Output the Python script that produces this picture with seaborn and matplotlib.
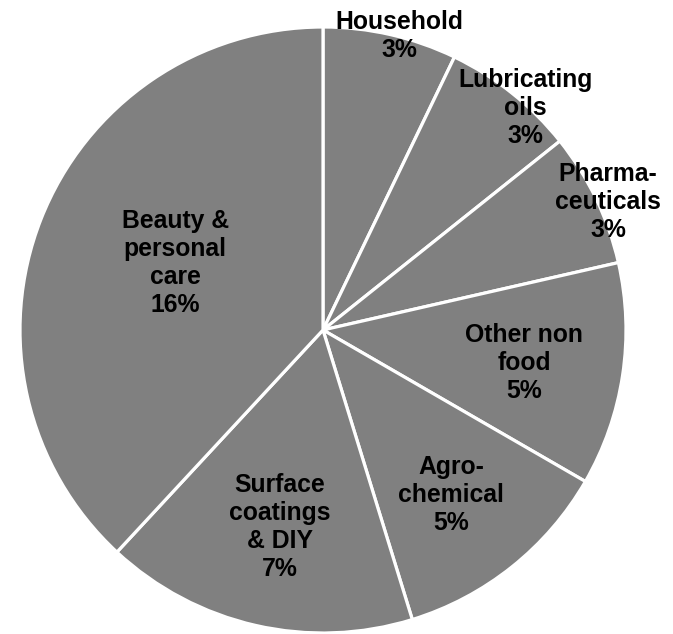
import matplotlib
matplotlib.use("Agg")
import matplotlib.pyplot as plt
import seaborn as sns

# Share of end-use markets (percent of total)
categories = [
    "Household",
    "Lubricating\noils",
    "Pharma-\nceuticals",
    "Other non\nfood",
    "Agro-\nchemical",
    "Surface\ncoatings\n& DIY",
    "Beauty &\npersonal\ncare",
]
shares = [3, 3, 3, 5, 5, 7, 16]

# Label anchor points, in units of the pie radius
label_xy = [
    (0.251, 0.970),
    (0.667, 0.733),
    (0.941, 0.422),
    (0.663, -0.109),
    (0.422, -0.545),
    (-0.142, -0.650),
    (-0.488, 0.221),
]

sns.set_style("white")
plt.rcParams["font.family"] = ["Liberation Sans", "DejaVu Sans"]

fig = plt.figure(figsize=(6.73, 6.34), dpi=100)
ax = fig.add_axes([0, 0, 1, 1])

slice_color = sns.color_palette(["#808080"])[0]
ax.pie(
    shares,
    colors=[slice_color] * len(shares),
    startangle=90,
    counterclock=False,
    radius=1.0,
    wedgeprops=dict(edgecolor="white", linewidth=2.3),
)

for name, val, (x, y) in zip(categories, shares, label_xy):
    ax.text(x, y, f"{name}\n{val}%", ha="center", va="center",
            fontsize=17.8, fontweight="bold", color="black", linespacing=1.2)

r_px = 303.0
ax.set_xlim(-323 / r_px, 350 / r_px)
ax.set_ylim(-304 / r_px, 330 / r_px)
ax.set_aspect("equal")
ax.axis("off")

fig.savefig("out.png", dpi=100, facecolor="white")
